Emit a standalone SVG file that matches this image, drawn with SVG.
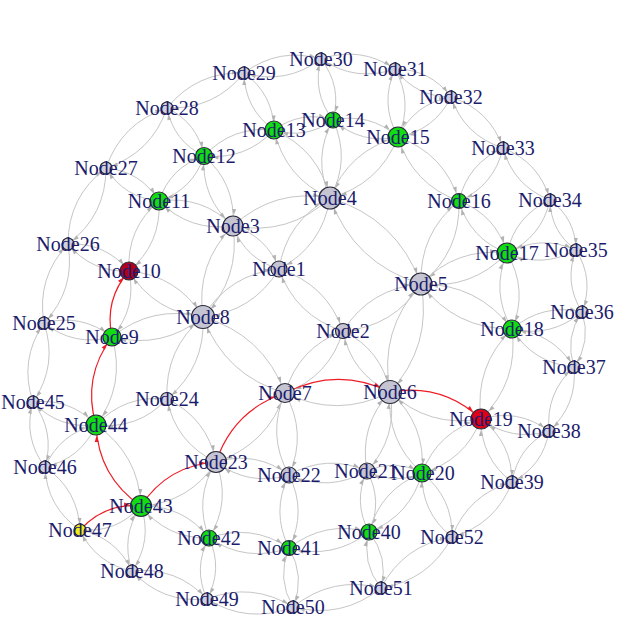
<svg xmlns="http://www.w3.org/2000/svg" width="626" height="633" viewBox="0 0 626 633">
<style>
.edges path{fill:none;stroke:#c6c6c6;stroke-width:1}
.tS path{marker-end:url(#aS)}
.tM path{marker-end:url(#aM)}
.tL path{marker-end:url(#aL)}
.edges .red path{stroke:#ee1c24;stroke-width:1.2}
.red.tM path{marker-end:url(#rM)}
.red.tL path{marker-end:url(#rL)}
.node circle{stroke:#2a2a3a;stroke-width:1.2}
.node text{font-family:"Liberation Serif","Times New Roman",serif;font-size:20px;fill:#1c1c6c;text-anchor:middle}
.g circle{fill:#c4c4d2}
.s circle{fill:#d0d0de}
.gr circle{fill:#11dd11}
.rd circle{fill:#dd0018}
.dr circle{fill:#b0001e}
.yl circle{fill:#eeee10}
</style>
<defs>
<marker id="aS" markerUnits="userSpaceOnUse" markerWidth="6" markerHeight="4" refX="12" refY="2" orient="auto" overflow="visible"><path d="M0 0L6 2L0 4z" fill="#b2b2b2"/></marker>
<marker id="aM" markerUnits="userSpaceOnUse" markerWidth="6" markerHeight="4" refX="14.5" refY="2" orient="auto" overflow="visible"><path d="M0 0L6 2L0 4z" fill="#b2b2b2"/></marker>
<marker id="aL" markerUnits="userSpaceOnUse" markerWidth="6" markerHeight="4" refX="17" refY="2" orient="auto" overflow="visible"><path d="M0 0L6 2L0 4z" fill="#b2b2b2"/></marker>
<marker id="rM" markerUnits="userSpaceOnUse" markerWidth="6" markerHeight="4" refX="14.5" refY="2" orient="auto" overflow="visible"><path d="M0 0L6 2L0 4z" fill="#ee1c24"/></marker>
<marker id="rL" markerUnits="userSpaceOnUse" markerWidth="6" markerHeight="4" refX="17" refY="2" orient="auto" overflow="visible"><path d="M0 0L6 2L0 4z" fill="#ee1c24"/></marker>
</defs>
<rect width="626" height="633" fill="#ffffff"/>
<g id="connectors" class="edges">
<g class="tS">
<path d="M203 317Q205.5 367 167 399"/>
<path d="M216 462Q175.75 442.75 167 399"/>
<path d="M96 425Q125 394.25 167 399"/>
<path d="M112 337Q74.5 347 44 323"/>
<path d="M129 271Q91.75 272.75 68 244"/>
<path d="M159 201Q124.25 197.75 106 168"/>
<path d="M204 156Q173.5 141.25 167 108"/>
<path d="M274 130Q244.75 109 244 73"/>
<path d="M333 120Q311.75 92.5 321 59"/>
<path d="M398 137Q379.5 103.75 395 69"/>
<path d="M398 137Q414.5 103.75 451 97"/>
<path d="M459 201Q467.75 163.5 503 148"/>
<path d="M507 253Q515.25 215.75 550 200"/>
<path d="M507 253Q540.75 234.25 576 250"/>
<path d="M512 329Q542.75 303 582 312"/>
<path d="M512 329Q552.5 332.5 574 367"/>
<path d="M481 419Q518 408 549 431"/>
<path d="M481 419Q512.25 442.75 512 482"/>
<path d="M422 473Q453 497.5 452 537"/>
<path d="M369 532Q389 557 381 588"/>
<path d="M289 548Q305.75 576.5 293 607"/>
<path d="M209 538Q223.25 569 207 599"/>
<path d="M141 506Q152.75 540.75 132 571"/>
<path d="M141 506Q116.5 533.25 80 530"/>
<path d="M96 425Q81 458.75 45 467"/>
<path d="M96 425Q58.75 429.25 33 402"/>
<path d="M44 323Q36.25 277.5 68 244"/>
<path d="M68 244Q75.75 289.5 44 323"/>
<path d="M68 244Q68 196.5 106 168"/>
<path d="M106 168Q106 215.5 68 244"/>
<path d="M106 168Q121.5 122.75 167 108"/>
<path d="M167 108Q151.5 153.25 106 168"/>
<path d="M167 108Q196.75 71.25 244 73"/>
<path d="M244 73Q214.25 109.75 167 108"/>
<path d="M244 73Q279 46.75 321 59"/>
<path d="M321 59Q286 85.25 244 73"/>
<path d="M321 59Q360.5 45.5 395 69"/>
<path d="M395 69Q355.5 82.5 321 59"/>
<path d="M395 69Q430 69 451 97"/>
<path d="M451 97Q416 97 395 69"/>
<path d="M451 97Q489.75 109.5 503 148"/>
<path d="M503 148Q464.25 135.5 451 97"/>
<path d="M503 148Q539.5 162.25 550 200"/>
<path d="M550 200Q513.5 185.75 503 148"/>
<path d="M550 200Q575.5 218.5 576 250"/>
<path d="M576 250Q550.5 231.5 550 200"/>
<path d="M576 250Q594.5 279.5 582 312"/>
<path d="M582 312Q563.5 282.5 576 250"/>
<path d="M582 312Q591.75 341.5 574 367"/>
<path d="M574 367Q564.25 337.5 582 312"/>
<path d="M574 367Q577.5 405.25 549 431"/>
<path d="M549 431Q545.5 392.75 574 367"/>
<path d="M549 431Q543.25 465.75 512 482"/>
<path d="M512 482Q517.75 447.25 549 431"/>
<path d="M512 482Q495.75 524.5 452 537"/>
<path d="M452 537Q468.25 494.5 512 482"/>
<path d="M452 537Q429.25 580.25 381 588"/>
<path d="M381 588Q403.75 544.75 452 537"/>
<path d="M381 588Q341.75 619.5 293 607"/>
<path d="M293 607Q332.25 575.5 381 588"/>
<path d="M293 607Q248 624.5 207 599"/>
<path d="M207 599Q252 581.5 293 607"/>
<path d="M207 599Q162.5 603.75 132 571"/>
<path d="M132 571Q176.5 566.25 207 599"/>
<path d="M132 571Q95.75 563.5 80 530"/>
<path d="M80 530Q116.25 537.5 132 571"/>
<path d="M80 530Q46.75 507.25 45 467"/>
<path d="M45 467Q78.25 489.75 80 530"/>
<path d="M45 467Q22.75 437.5 33 402"/>
<path d="M33 402Q55.25 431.5 45 467"/>
<path d="M33 402Q18.75 359.75 44 323"/>
<path d="M44 323Q58.25 365.25 33 402"/>
</g>
<g class="tM">
<path d="M279 269Q326.5 284 343 331"/>
<path d="M343 331Q295.5 316 279 269"/>
<path d="M233 226Q266.75 236 279 269"/>
<path d="M330 198Q322.25 246.25 279 269"/>
<path d="M203 317Q229 274 279 269"/>
<path d="M421 284Q393.75 327 343 331"/>
<path d="M390 392Q351.25 373.25 343 331"/>
<path d="M285 393Q298.5 347.5 343 331"/>
<path d="M233 226Q189.75 232 159 201"/>
<path d="M233 226Q201 198.25 204 156"/>
<path d="M330 198Q285 178 274 130"/>
<path d="M330 198Q312 158.25 333 120"/>
<path d="M421 284Q419.25 233 459 201"/>
<path d="M421 284Q477.75 283.75 512 329"/>
<path d="M390 392Q426.25 424.5 422 473"/>
<path d="M390 392Q398.25 437.25 367 471"/>
<path d="M285 393Q307.5 433 289 475"/>
<path d="M203 317Q162.5 349.75 112 337"/>
<path d="M203 317Q154.5 312.5 129 271"/>
<path d="M129 271Q137 308.25 112 337"/>
<path d="M129 271Q126.5 228.5 159 201"/>
<path d="M159 201Q161.5 243.5 129 271"/>
<path d="M159 201Q170.25 167.25 204 156"/>
<path d="M204 156Q192.75 189.75 159 201"/>
<path d="M204 156Q232.5 125.5 274 130"/>
<path d="M274 130Q245.5 160.5 204 156"/>
<path d="M274 130Q301 110.25 333 120"/>
<path d="M333 120Q306 139.75 274 130"/>
<path d="M398 137Q361.25 144.75 333 120"/>
<path d="M398 137Q444.5 153.75 459 201"/>
<path d="M507 253Q470 239 459 201"/>
<path d="M507 253Q528.5 289.75 512 329"/>
<path d="M481 419Q474 366.25 512 329"/>
<path d="M481 419Q465 460.75 422 473"/>
<path d="M422 473Q394 485.75 367 471"/>
<path d="M367 471Q395 458.25 422 473"/>
<path d="M367 471Q329 492.5 289 475"/>
<path d="M289 475Q327 453.5 367 471"/>
<path d="M216 462Q255.75 450.25 289 475"/>
<path d="M216 462Q231.5 501.75 209 538"/>
<path d="M141 506Q183 505 209 538"/>
<path d="M289 475Q307.25 511.5 289 548"/>
<path d="M289 548Q270.75 511.5 289 475"/>
<path d="M289 548Q246.5 563 209 538"/>
<path d="M209 538Q251.5 523 289 548"/>
<path d="M367 471Q383.25 501 369 532"/>
<path d="M369 532Q352.75 502 367 471"/>
<path d="M422 473Q410.25 515.75 369 532"/>
<path d="M369 532Q380.75 489.25 422 473"/>
<path d="M369 532Q333 560 289 548"/>
<path d="M289 548Q325 520 369 532"/>
<path d="M44 323Q81.5 313 112 337"/>
<path d="M68 244Q105.25 242.25 129 271"/>
<path d="M106 168Q140.75 171.25 159 201"/>
<path d="M167 108Q197.5 122.75 204 156"/>
<path d="M244 73Q273.25 94 274 130"/>
<path d="M321 59Q342.25 86.5 333 120"/>
<path d="M503 148Q494.25 185.5 459 201"/>
<path d="M582 312Q551.25 338 512 329"/>
<path d="M574 367Q533.5 363.5 512 329"/>
<path d="M452 537Q421 512.5 422 473"/>
<path d="M381 588Q361 563 369 532"/>
<path d="M293 607Q276.25 578.5 289 548"/>
<path d="M207 599Q192.75 568 209 538"/>
</g>
<g class="tL">
<path d="M279 269Q245.25 259 233 226"/>
<path d="M279 269Q286.75 220.75 330 198"/>
<path d="M279 269Q253 312 203 317"/>
<path d="M343 331Q370.25 288 421 284"/>
<path d="M343 331Q381.75 349.75 390 392"/>
<path d="M343 331Q329.5 376.5 285 393"/>
<path d="M233 226Q274.5 187.75 330 198"/>
<path d="M330 198Q288.5 236.25 233 226"/>
<path d="M233 226Q240.75 279 203 317"/>
<path d="M203 317Q195.25 264 233 226"/>
<path d="M159 201Q202.25 195 233 226"/>
<path d="M204 156Q236 183.75 233 226"/>
<path d="M330 198Q397 218.25 421 284"/>
<path d="M421 284Q354 263.75 330 198"/>
<path d="M274 130Q319 150 330 198"/>
<path d="M333 120Q351 159.75 330 198"/>
<path d="M330 198Q348.75 150.5 398 137"/>
<path d="M398 137Q379.25 184.5 330 198"/>
<path d="M421 284Q432.5 345.75 390 392"/>
<path d="M390 392Q378.5 330.25 421 284"/>
<path d="M459 201Q460.75 252 421 284"/>
<path d="M421 284Q456.25 247 507 253"/>
<path d="M507 253Q471.75 290 421 284"/>
<path d="M512 329Q455.25 329.25 421 284"/>
<path d="M390 392Q337.75 418.75 285 393"/>
<path d="M481 419Q428.75 428.25 390 392"/>
<path d="M422 473Q385.75 440.5 390 392"/>
<path d="M367 471Q358.75 425.75 390 392"/>
<path d="M285 393Q225 375.5 203 317"/>
<path d="M203 317Q263 334.5 285 393"/>
<path d="M289 475Q266.5 435 285 393"/>
<path d="M285 393Q267.75 444.75 216 462"/>
<path d="M112 337Q152.5 304.25 203 317"/>
<path d="M129 271Q177.5 275.5 203 317"/>
<path d="M167 399Q164.5 349 203 317"/>
<path d="M333 120Q369.75 112.25 398 137"/>
<path d="M459 201Q412.5 184.25 398 137"/>
<path d="M459 201Q496 215 507 253"/>
<path d="M512 329Q490.5 292.25 507 253"/>
<path d="M512 329Q519 381.75 481 419"/>
<path d="M422 473Q438 431.25 481 419"/>
<path d="M289 475Q249.25 486.75 216 462"/>
<path d="M167 399Q207.25 418.25 216 462"/>
<path d="M112 337Q126 385 96 425"/>
<path d="M167 399Q138 429.75 96 425"/>
<path d="M96 425Q138.75 454.25 141 506"/>
<path d="M216 462Q189.5 502.75 141 506"/>
<path d="M209 538Q193.5 498.25 216 462"/>
<path d="M209 538Q167 539 141 506"/>
<path d="M395 69Q413.5 102.25 398 137"/>
<path d="M451 97Q434.5 130.25 398 137"/>
<path d="M550 200Q541.75 237.25 507 253"/>
<path d="M576 250Q542.25 268.75 507 253"/>
<path d="M549 431Q512 442 481 419"/>
<path d="M512 482Q480.75 458.25 481 419"/>
<path d="M132 571Q120.25 536.25 141 506"/>
<path d="M45 467Q60 433.25 96 425"/>
<path d="M33 402Q70.25 397.75 96 425"/>
</g>
<g class="red tM">
<path d="M112 337Q104 299.75 129 271"/>
<path d="M96 425Q82 377 112 337"/>
</g>
<g class="red tL">
<path d="M285 393Q337.25 366.25 390 392"/>
<path d="M390 392Q442.25 382.75 481 419"/>
<path d="M216 462Q233.25 410.25 285 393"/>
<path d="M141 506Q98.25 476.75 96 425"/>
<path d="M141 506Q167.5 465.25 216 462"/>
<path d="M80 530Q104.5 502.75 141 506"/>
</g>
</g>
<g id="nodes">
<g id="node25" class="node s"><circle cx="44" cy="323" r="6"/><text x="44" y="330">Node25</text></g>
<g id="node26" class="node s"><circle cx="68" cy="244" r="6"/><text x="68" y="251">Node26</text></g>
<g id="node27" class="node s"><circle cx="106" cy="168" r="6"/><text x="106" y="175">Node27</text></g>
<g id="node28" class="node s"><circle cx="167" cy="108" r="6"/><text x="167" y="115">Node28</text></g>
<g id="node29" class="node s"><circle cx="244" cy="73" r="6"/><text x="244" y="80">Node29</text></g>
<g id="node30" class="node s"><circle cx="321" cy="59" r="6"/><text x="321" y="66">Node30</text></g>
<g id="node31" class="node s"><circle cx="395" cy="69" r="6"/><text x="395" y="76">Node31</text></g>
<g id="node32" class="node s"><circle cx="451" cy="97" r="6"/><text x="451" y="104">Node32</text></g>
<g id="node33" class="node s"><circle cx="503" cy="148" r="6"/><text x="503" y="155">Node33</text></g>
<g id="node34" class="node s"><circle cx="550" cy="200" r="6"/><text x="550" y="207">Node34</text></g>
<g id="node35" class="node s"><circle cx="576" cy="250" r="6"/><text x="576" y="257">Node35</text></g>
<g id="node36" class="node s"><circle cx="582" cy="312" r="6"/><text x="582" y="319">Node36</text></g>
<g id="node37" class="node s"><circle cx="574" cy="367" r="6"/><text x="574" y="374">Node37</text></g>
<g id="node38" class="node s"><circle cx="549" cy="431" r="6"/><text x="549" y="438">Node38</text></g>
<g id="node39" class="node s"><circle cx="512" cy="482" r="6"/><text x="512" y="489">Node39</text></g>
<g id="node52" class="node s"><circle cx="452" cy="537" r="6"/><text x="452" y="544">Node52</text></g>
<g id="node51" class="node s"><circle cx="381" cy="588" r="6"/><text x="381" y="595">Node51</text></g>
<g id="node50" class="node s"><circle cx="293" cy="607" r="6"/><text x="293" y="614">Node50</text></g>
<g id="node49" class="node s"><circle cx="207" cy="599" r="6"/><text x="207" y="606">Node49</text></g>
<g id="node48" class="node s"><circle cx="132" cy="571" r="6"/><text x="132" y="578">Node48</text></g>
<g id="node46" class="node s"><circle cx="45" cy="467" r="6"/><text x="45" y="474">Node46</text></g>
<g id="node45" class="node s"><circle cx="33" cy="402" r="6"/><text x="33" y="409">Node45</text></g>
<g id="node24" class="node s"><circle cx="167" cy="399" r="6.5"/><text x="167" y="406">Node24</text></g>
<g id="node47" class="node yl"><circle cx="80" cy="530" r="6"/><text x="80" y="537">Node47</text></g>
<g id="node1" class="node g"><circle cx="279" cy="269" r="8"/><text x="279" y="276">Node1</text></g>
<g id="node2" class="node g"><circle cx="343" cy="331" r="7.5"/><text x="343" y="338">Node2</text></g>
<g id="node3" class="node g"><circle cx="233" cy="226" r="10"/><text x="233" y="233">Node3</text></g>
<g id="node4" class="node g"><circle cx="330" cy="198" r="11"/><text x="330" y="205">Node4</text></g>
<g id="node5" class="node g"><circle cx="421" cy="284" r="11"/><text x="421" y="291">Node5</text></g>
<g id="node6" class="node g"><circle cx="390" cy="392" r="11.5"/><text x="390" y="399">Node6</text></g>
<g id="node7" class="node g"><circle cx="285" cy="393" r="9.5"/><text x="285" y="400">Node7</text></g>
<g id="node8" class="node g"><circle cx="203" cy="317" r="11.5"/><text x="203" y="324">Node8</text></g>
<g id="node21" class="node g"><circle cx="367" cy="471" r="8"/><text x="366" y="478">Node21</text></g>
<g id="node22" class="node g"><circle cx="289" cy="475" r="8"/><text x="289" y="482">Node22</text></g>
<g id="node23" class="node g"><circle cx="216" cy="462" r="10.5"/><text x="216" y="469">Node23</text></g>
<g id="node9" class="node gr"><circle cx="112" cy="337" r="9"/><text x="112" y="344">Node9</text></g>
<g id="node10" class="node dr"><circle cx="129" cy="271" r="9"/><text x="129" y="278">Node10</text></g>
<g id="node11" class="node gr"><circle cx="159" cy="201" r="9"/><text x="159" y="208">Node11</text></g>
<g id="node12" class="node gr"><circle cx="204" cy="156" r="8.5"/><text x="204" y="163">Node12</text></g>
<g id="node13" class="node gr"><circle cx="274" cy="130" r="9"/><text x="274" y="137">Node13</text></g>
<g id="node14" class="node gr"><circle cx="333" cy="120" r="8"/><text x="333" y="127">Node14</text></g>
<g id="node15" class="node gr"><circle cx="398" cy="137" r="10"/><text x="398" y="144">Node15</text></g>
<g id="node16" class="node gr"><circle cx="459" cy="201" r="7.5"/><text x="459" y="208">Node16</text></g>
<g id="node17" class="node gr"><circle cx="507" cy="253" r="10"/><text x="507" y="260">Node17</text></g>
<g id="node18" class="node gr"><circle cx="512" cy="329" r="9"/><text x="512" y="336">Node18</text></g>
<g id="node19" class="node rd"><circle cx="481" cy="419" r="10"/><text x="481" y="426">Node19</text></g>
<g id="node20" class="node gr"><circle cx="422" cy="473" r="9"/><text x="423" y="480">Node20</text></g>
<g id="node40" class="node gr"><circle cx="369" cy="532" r="8"/><text x="369" y="539">Node40</text></g>
<g id="node41" class="node gr"><circle cx="289" cy="548" r="7.5"/><text x="289" y="555">Node41</text></g>
<g id="node42" class="node gr"><circle cx="209" cy="538" r="8"/><text x="209" y="545">Node42</text></g>
<g id="node43" class="node gr"><circle cx="141" cy="506" r="10.5"/><text x="141" y="513">Node43</text></g>
<g id="node44" class="node gr"><circle cx="96" cy="425" r="10"/><text x="96" y="432">Node44</text></g>
</g>
</svg>
